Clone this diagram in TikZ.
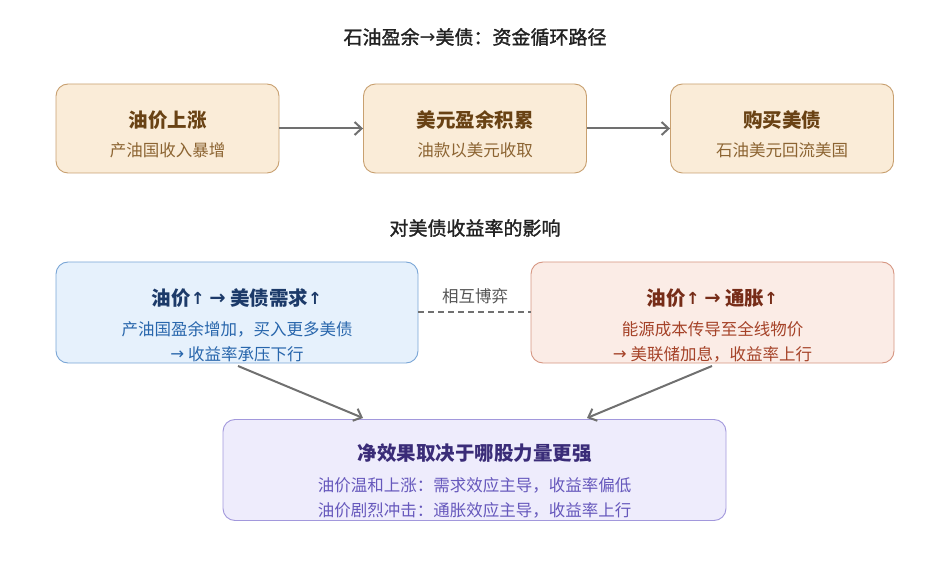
\documentclass[tikz,border=0pt]{standalone}
\usepackage{fontspec}
\setmainfont{Noto Sans CJK SC}
\newfontfamily\headfont[FakeBold=1.5]{Noto Sans CJK SC}
\newfontfamily\arrowfont{DejaVu Sans}
\newcommand{\ua}{\raisebox{0.06em}{\arrowfont\scalebox{0.85}{↑}}}
\newcommand{\ra}{\raisebox{0.06em}{\arrowfont →}}
\usetikzlibrary{arrows.meta}
\definecolor{tfill}{RGB}{250,236,216}
\definecolor{tdraw}{RGB}{200,160,112}
\definecolor{ttitle}{RGB}{105,66,20}
\definecolor{tsub}{RGB}{140,100,50}
\definecolor{bfill}{RGB}{230,241,252}
\definecolor{bdraw}{RGB}{122,166,214}
\definecolor{btitle}{RGB}{28,58,105}
\definecolor{bsub}{RGB}{40,102,172}
\definecolor{rfill}{RGB}{251,236,230}
\definecolor{rdraw}{RGB}{214,150,130}
\definecolor{rtitle}{RGB}{118,44,24}
\definecolor{rsub}{RGB}{165,66,40}
\definecolor{pfill}{RGB}{238,236,252}
\definecolor{pdraw}{RGB}{162,152,220}
\definecolor{ptitle}{RGB}{58,44,120}
\definecolor{psub}{RGB}{102,88,188}
\definecolor{arrowgray}{RGB}{112,112,112}
\definecolor{headtext}{RGB}{34,34,34}
\definecolor{lbltext}{RGB}{85,85,85}
\tikzset{
  boxbase/.style={draw, line width=0.9pt, rounded corners=12pt, inner sep=0pt},
  topbox/.style={boxbase, fill=tfill, draw=tdraw, minimum width=223pt, minimum height=89pt},
  bluebox/.style={boxbase, fill=bfill, draw=bdraw, minimum width=362pt, minimum height=101pt},
  redbox/.style={boxbase, fill=rfill, draw=rdraw, minimum width=363pt, minimum height=101pt},
  purpbox/.style={boxbase, fill=pfill, draw=pdraw, minimum width=503pt, minimum height=101pt},
  headtxt/.style={inner sep=0pt, text=headtext, font=\fontsize{19}{23}\selectfont\headfont},
  ttl/.style={inner sep=0pt, font=\fontsize{19.5}{23}\selectfont\bfseries},
  sub/.style={inner sep=0pt, font=\fontsize{16.5}{20}\selectfont},
  flow/.style={draw=arrowgray, line width=2pt, -{Straight Barb[length=7pt,width=13pt,line width=2pt]}},
  gamedash/.style={draw=arrowgray, line width=1.6pt, dash pattern=on 6pt off 4pt},
}
\begin{document}
\begin{tikzpicture}[x=1pt,y=-1pt]
\useasboundingbox (0,0) rectangle (951,588);
% titles
\node[headtxt] (title) at (475,37) {石油盈余\ra 美债：资金循环路径};
\node[headtxt] (sect) at (475,228) {对美债收益率的影响};
% top row
\node[topbox] (b1) at (167.5,128.5) {};
\node[topbox] (b2) at (475,128.5) {};
\node[topbox] (b3) at (782,128.5) {};
\node[ttl, text=ttitle] (b1t) at (167.5,120) {油价上涨};
\node[sub, text=tsub] (b1s) at (167.5,150) {产油国收入暴增};
\node[ttl, text=ttitle] (b2t) at (475,120) {美元盈余积累};
\node[sub, text=tsub] (b2s) at (475,150) {油款以美元收取};
\node[ttl, text=ttitle] (b3t) at (782,120) {购买美债};
\node[sub, text=tsub] (b3s) at (782,150) {石油美元回流美国};
\draw[flow] (b1.east) -- (b2.west);
\draw[flow] (b2.east) -- (b3.west);
% middle row
\node[bluebox] (lb) at (237,312.5) {};
\node[redbox] (rb) at (712.5,312.5) {};
\node[ttl, text=btitle] (lbt) at (237,298) {油价\ua{} \ra{} 美债需求\ua};
\node[sub, text=bsub] (lbs1) at (237,329) {产油国盈余增加，买入更多美债};
\node[sub, text=bsub] (lbs2) at (237,354) {\ra{} 收益率承压下行};
\node[ttl, text=rtitle] (rbt) at (712.5,298) {油价\ua{} \ra{} 通胀\ua};
\node[sub, text=rsub] (rbs1) at (712.5,329) {能源成本传导至全线物价};
\node[sub, text=rsub] (rbs2) at (712.5,354) {\ra{} 美联储加息，收益率上行};
\draw[gamedash] (lb.east |- 0,312) -- (rb.west |- 0,312);
\node[sub, text=lbltext] (game) at (475,296) {相互博弈};
% bottom
\node[purpbox] (pb) at (474.5,470) {};
\node[ttl, text=ptitle] (pbt) at (474.5,453) {净效果取决于哪股力量更强};
\node[sub, text=psub] (pbs1) at (474.5,485) {油价温和上涨：需求效应主导，收益率偏低};
\node[sub, text=psub] (pbs2) at (474.5,510) {油价剧烈冲击：通胀效应主导，收益率上行};
\coordinate (la) at (238,366);
\coordinate (ra) at (712,366);
\coordinate (lt) at (363,418);
\coordinate (rt) at (587,418);
\draw[flow] (la) -- (lt);
\draw[flow] (ra) -- (rt);
\end{tikzpicture}
\end{document}
